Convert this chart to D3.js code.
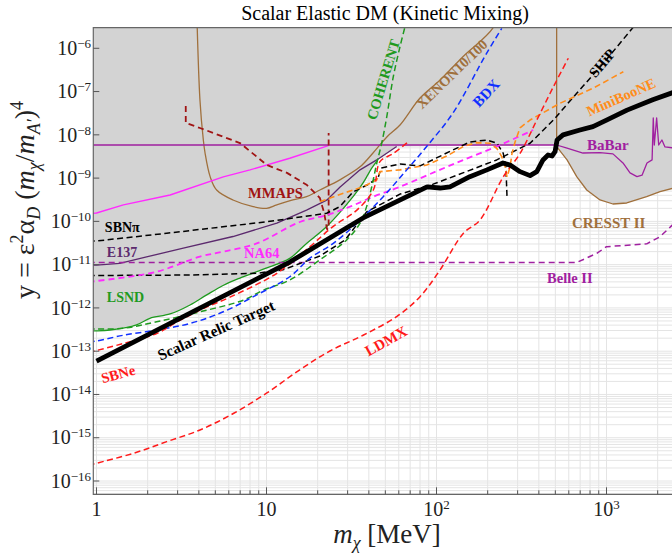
<!DOCTYPE html>
<html>
<head>
<meta charset="utf-8">
<script src="https://cdn.jsdelivr.net/npm/d3@7"></script>
<style>
  body { margin: 0; background: #fff; }
  text { font-family: "Liberation Serif", "DejaVu Serif", serif; }
</style>
</head>
<body>
<svg id="chart" width="672" height="556"></svg>
<script>
// ---- data: [m_chi in MeV, y] ----
const relicTarget = [[1,5.89e-14],[13.7,1.15e-11],[37,1.2e-10],[88,6.24e-10],[105,5.9e-10],[120,6.3e-10],[157,1.08e-9],[198,1.55e-9],[246,2.24e-9],[271,2.0e-9],[310,1.41e-9],[355,1.14e-9],[389,1.41e-9],[423,2.63e-9],[453,3.42e-9],[478,3.24e-9],[498,4.07e-9],[512,7.59e-9],[555,1.0e-8],[698,1.29e-8],[832,1.55e-8],[1000,2.19e-8],[1320,3.72e-8],[1870,6.46e-8],[2460,9.5e-8]];
const babar = [[0.9,5.82e-9],[509,5.82e-9],[586,4.9e-9],[727,3.8e-9],[916,3.89e-9],[1091,3.63e-9],[1250,2.24e-9],[1375,1.32e-9],[1511,1.08e-9],[1618,1.17e-9],[1730,2.24e-9],[1854,2.63e-9],[1884,2.45e-8],[1910,5.82e-9],[1972,2.45e-8],[2028,5.82e-9],[2118,7.59e-9],[2208,5.25e-9],[2460,5.0e-9]];
const cresst = [[509,1e-5],[509,5.32e-9],[586,2.63e-9],[668,1.08e-9],[765,5.31e-10],[916,3.12e-10],[1091,2.52e-10],[1315,2.66e-10],[1722,3.72e-10],[2064,4.85e-10],[2460,5.82e-10]];
const xenon = [[3.88,1e-5],[4.06,6.38e-8],[4.25,7.59e-9],[4.35,3.8e-9],[4.66,1.08e-9],[5.09,5.31e-10],[6.35,3.12e-10],[8.34,2.19e-10],[10,2.0e-10],[11.5,2.4e-10],[14.3,3.12e-10],[17.2,3.72e-10],[20.6,5.31e-10],[27,9.12e-10],[35.5,1.82e-9],[42.3,3.8e-9],[51.2,9.06e-9],[61,1.69e-8],[80,7.1e-8],[105,1.85e-7],[143,6.4e-7],[215,2.95e-6],[240,1e-5]];
const e137 = [[0.9,9.7e-12],[1,9.77e-12],[1.37,1.07e-11],[1.97,1.51e-11],[3.24,2.4e-11],[6.35,4.47e-11],[11.5,9.12e-11],[17.2,1.82e-10],[22.6,3.09e-10],[27,6.17e-10],[35.5,1.55e-9],[44.5,2.63e-9],[58.3,5.37e-9]];
const lsnd = [[0.9,2.95e-13],[1,2.95e-13],[1.2,3.09e-13],[1.72,4.07e-13],[2.06,5.75e-13],[2.71,7.24e-13],[3.55,1.17e-12],[4.45,2.0e-12],[5.55,3.3e-12],[6.98,4.9e-12],[9.5,7.8e-12],[13.7,1.4e-11],[17.2,3.09e-11],[22.6,7.59e-11],[32.3,3.72e-10],[37,7.76e-10],[41.6,1.7e-9],[44.7,2.51e-9]];
const sbnPiUpper = [[0.9,3.5e-11],[1,3.52e-11],[2.59,5.31e-11],[10,9.77e-11],[22.6,1.54e-10],[27,2.19e-10],[32.3,4.79e-10],[39,6.92e-10],[45.3,1.0e-9],[47.2,1.71e-9],[61,2.12e-9],[80,1.91e-9],[125,4.47e-9],[157,6.84e-9],[198,7.59e-9],[227,6.38e-9],[247,3.74e-9],[256,1.84e-9],[260,3.47e-10]];
const sbnPiShip = [[0.9,5.62e-12],[1,5.62e-12],[3.55,5.75e-12],[8.75,6.31e-12],[12.5,7.59e-12],[20.6,1.58e-11],[29,3.72e-11],[38.8,1.66e-10],[61,4.27e-10],[95.5,7.24e-10],[143,1.32e-9],[226,2.63e-9],[355,6.38e-9],[487,2.2e-8],[668,9.12e-8],[958,4.5e-7],[1440,3.1e-6]];
const na64Proj = [[0.9,4.0e-12],[1,4.19e-12],[2.26,6.87e-12],[4.06,1.53e-11],[5.57,2.0e-11],[8.76,3.09e-11],[15.7,9.68e-11],[22.6,1.4e-10],[31,2.19e-10],[42.5,3.72e-10],[61,6.31e-10],[115,1.82e-9],[144,2.63e-9],[226,5.37e-9],[370,1.29e-8]];
const na64 = [[0.9,1.5e-10],[1,1.56e-10],[1.44,2.4e-10],[2.71,4.07e-10],[5.57,1.07e-9],[8.0,1.55e-9],[13.7,2.88e-9],[23.1,5.62e-9]];
const mmaps = [[3.35,4.65e-8],[3.35,1.88e-8],[4.06,1.44e-8],[6.98,6.46e-9],[10.07,2.0e-9],[13.2,1.32e-9],[17.3,6.92e-10],[20.6,3.47e-10],[21.8,1.62e-10],[22.7,6.61e-11],[23.2,6.61e-11],[23.2,1.1e-8]];
const sbne = [[0.9,9.5e-14],[1,1.04e-13],[1.44,1.51e-13],[2.26,2.57e-13],[2.96,4.68e-13],[4.06,8.91e-13],[6.1,1.78e-12],[11.5,6.31e-12],[18,2.6e-11],[24.6,7.59e-11],[34,1.82e-10],[42.5,5.31e-10],[46.5,2.4e-9],[55.7,3.72e-9],[68,6.84e-9]];
const ldmx = [[0.9,2.3e-16],[1,2.57e-16],[1.65,4.37e-16],[2.59,8.13e-16],[4.06,1.51e-15],[6.38,3.63e-15],[10,1.07e-14],[15.7,3.72e-14],[23.6,1.01e-13],[37,2.34e-13],[58.3,6.31e-13],[80,1.82e-12],[105,7.59e-12],[144,5.31e-11],[180,1.07e-10],[247,1.07e-9],[310,3.72e-9],[389,2.19e-8],[487,1.29e-7],[596,5.89e-7]];
const bdx = [[0.9,1.65e-13],[1,1.72e-13],[1.44,2.34e-13],[2.26,3.09e-13],[3.55,4.37e-13],[5.57,8.13e-13],[8.75,2.0e-12],[13.7,5.25e-12],[18,1.41e-11],[24.7,3.09e-11],[35.5,1.07e-10],[48.6,3.72e-10],[66.8,1.55e-9],[87.5,5.37e-9],[125,3.2e-8],[197,7.66e-7],[242,2.88e-6]];
const coherent = [[0.9,3.25e-13],[1,3.26e-13],[1.44,3.39e-13],[2.26,4.79e-13],[4.06,8.13e-13],[7.3,1.51e-12],[9.57,2.57e-12],[13.7,4.42e-12],[20.6,1.29e-11],[29.6,3.72e-11],[35.5,9.12e-11],[38.8,2.19e-10],[41.6,6.31e-10],[44.5,2.19e-9],[47.6,6.38e-9],[51,2.63e-8],[55.7,2.21e-7],[61,1.09e-6],[65.3,3.16e-6]];
const miniboone = [[20.6,2.85e-10],[28.3,4.47e-10],[37,6.31e-10],[44.5,9.12e-10],[46.5,1.41e-9],[61,1.55e-9],[87.5,2.0e-9],[115,3.24e-9],[144,5.37e-9],[172,6.61e-9],[206,6.38e-9],[226,4.9e-9],[242,3.13e-9],[253,1.84e-9],[260,1.06e-9],[271,1.84e-9],[278,3.72e-9],[290,6.92e-9],[310,1.45e-8],[355,2.2e-8],[533,5.37e-8],[836,1.2e-7],[1256,2.88e-7]];
const belle2 = [[0.9,1.12e-11],[668,1.12e-11],[876,1.82e-11],[1000,2.6e-11],[1723,3.02e-11],[2065,4.43e-11],[2460,8.5e-11]];

const xTickValues = [1, 10, 100, 1000];
const xTickLabels = [["1", ""], ["10", ""], ["10", "2"], ["10", "3"]];
const yExponents = [-16, -15, -14, -13, -12, -11, -10, -9, -8, -7, -6];

// label text, anchor [m, y], angle, colour, anchor mode, size
const labels = [
  ["SBN\u03c0", [1.12, 5.69e-11], 0, "#000", "start", 14],
  ["E137", [1.15, 1.5e-11], 0, "#5c2a6e", "start", 14],
  ["LSND", [1.15, 1.37e-12], 0, "#1f9a1f", "start", 14],
  ["NA64", [7.37, 1.43e-11], 0, "#ff2bff", "start", 14.5],
  ["MMAPS", [7.79, 3.47e-10], 0, "#a01414", "start", 14.5],
  ["BaBar", [768, 4.47e-9], 0, "#a020a0", "start", 15],
  ["CRESST II", [626, 7.03e-11], 0, "#a0703c", "start", 15],
  ["Belle II", [447, 3.77e-12], 0, "#a020a0", "start", 14.5],
  ["COHERENT", [48.6, 1.9e-7], -73, "#1f9a1f", "middle", 14.5],
  ["XENON10/100", [123, 2.55e-7], -44, "#a0703c", "middle", 14.5],
  ["BDX", [196, 9.27e-8], -47, "#1030ff", "middle", 15],
  ["SHiP", [942, 4.57e-7], -50, "#000", "middle", 14.5],
  ["MiniBooNE", [1217, 7.5e-8], -24, "#ff8c1a", "middle", 14.5],
  ["Scalar Relic Target", [5.05, 3.09e-13], -24, "#000", "middle", 15.5],
  ["SBNe", [1.34, 2.97e-14], -15, "#ff1a1a", "middle", 14.5],
  ["LDMX", [50.5, 1.72e-13], -29, "#ff1a1a", "middle", 15]
];

// ---- layout ----
const pL = 93.3, pR = 673, pT = 27.7, pB = 494.3;
const x = d3.scaleLog().domain([0.9576, 2461]).range([pL, pR]);
const y = d3.scaleLog().domain([4.93e-17, 2.99e-6]).range([pB, pT]);

const svg = d3.select("#chart");
svg.append("defs").append("clipPath").attr("id", "plot")
  .append("rect").attr("x", pL).attr("y", pT)
  .attr("width", pR - pL).attr("height", pB - pT);

// grid
const xGrid = [], yGrid = [];
for (let d = 0; d <= 3; d++) for (let i = 1; i <= 9; i++) {
  const v = i * Math.pow(10, d);
  if (v >= x.domain()[0] && v <= x.domain()[1]) xGrid.push(v);
}
for (let d = -17; d <= -6; d++) for (let i = 1; i <= 9; i++) {
  const v = i * Math.pow(10, d);
  if (v >= y.domain()[0] && v <= y.domain()[1]) yGrid.push(v);
}
const grid = svg.append("g");
grid.selectAll(".gx").data(xGrid).enter().append("line")
  .attr("x1", d => x(d)).attr("x2", d => x(d)).attr("y1", pT).attr("y2", pB)
  .attr("stroke", "#e4e4e4").attr("stroke-width", 1);
grid.selectAll(".gy").data(yGrid).enter().append("line")
  .attr("y1", d => y(d)).attr("y2", d => y(d)).attr("x1", pL).attr("x2", pR)
  .attr("stroke", "#e4e4e4").attr("stroke-width", 1);

const plot = svg.append("g").attr("clip-path", "url(#plot)");

// grey excluded region: LSND / E137 / BaBar / CRESST II
const greyPoly = [[0.9, 1e-4]]
  .concat(lsnd)
  .concat(e137.filter(p => p[0] > 44.7))
  .concat([[509, babar[0][1]]])
  .concat(cresst.slice(1))
  .concat([[3000, cresst[cresst.length - 1][1]], [3000, 1e-4]]);
plot.append("path")
  .attr("d", d3.line().x(d => x(d[0])).y(d => y(d[1]))(greyPoly) + "Z")
  .attr("fill", "#d3d3d3");

const lin = d3.line().x(d => x(d[0])).y(d => y(d[1]));
const smooth = d3.line().x(d => x(d[0])).y(d => y(d[1])).curve(d3.curveCatmullRom.alpha(0.5));

function curve(data, color, width, dash, gen) {
  plot.append("path").attr("d", (gen || lin)(data))
    .attr("fill", "none").attr("stroke", color).attr("stroke-width", width)
    .attr("stroke-dasharray", dash || null).attr("stroke-linejoin", "round");
}

curve(xenon, "#a0703c", 1.3, null, smooth);
curve(cresst, "#a0703c", 1.3);
curve(na64, "#ff2bff", 1.4);
curve(babar, "#a020a0", 1.3);
curve(e137, "#5c2a6e", 1.3);
curve(lsnd, "#1f9a1f", 1.3, null, smooth);
curve(mmaps, "#a01414", 1.8, "6,4");
curve(belle2, "#a020a0", 1.5, "6,4");
curve(sbnPiUpper, "#000", 1.5, "6,3.5");
curve(sbnPiShip, "#000", 1.5, "6,3.5");
curve(na64Proj, "#ff2bff", 1.8, "6,4", smooth);
curve(miniboone, "#ff8c1a", 1.6, "6,3.5");
curve(coherent, "#1f9a1f", 1.5, "6,3.5", smooth);
curve(bdx, "#1030ff", 1.5, "6,3.5", smooth);
curve(sbne, "#ff1a1a", 1.5, "6,3.5", smooth);
curve(ldmx, "#ff1a1a", 1.5, "6,3.5", smooth);
curve(relicTarget, "#000", 4.8);

// labels
labels.forEach(([txt, pos, ang, col, anchor, size]) => {
  svg.append("text")
    .attr("transform", `translate(${x(pos[0])},${y(pos[1])}) rotate(${ang})`)
    .attr("text-anchor", anchor)
    .attr("dominant-baseline", anchor === "middle" ? "central" : "auto")
    .attr("font-size", size).attr("font-weight", "bold").attr("fill", col)
    .text(txt);
});

// frame
svg.append("path")
  .attr("d", `M${pR},${pT}H${pL}V${pB}H${pR}`)
  .attr("fill", "none").attr("stroke", "#666").attr("stroke-width", 1.2);

// ticks
svg.selectAll(".tx").data(xGrid).enter().append("line")
  .attr("x1", d => x(d)).attr("x2", d => x(d)).attr("y1", pB)
  .attr("y2", d => pB - (xTickValues.includes(d) ? 7 : 4))
  .attr("stroke", "#555");
svg.selectAll(".ty").data(yExponents).enter().append("line")
  .attr("y1", d => y(Math.pow(10, d))).attr("y2", d => y(Math.pow(10, d)))
  .attr("x1", pL).attr("x2", pL + 6).attr("stroke", "#555");

// tick labels
const xl = svg.selectAll(".xl").data(xTickValues).enter().append("text")
  .attr("x", d => x(d)).attr("y", 516).attr("text-anchor", "middle")
  .attr("font-size", 20).attr("fill", "#222");
xl.append("tspan").text((d, i) => xTickLabels[i][0]);
xl.append("tspan").attr("dy", -7).attr("font-size", 13).text((d, i) => xTickLabels[i][1]);

const yl = svg.selectAll(".yl").data(yExponents).enter().append("text")
  .attr("x", 91).attr("y", d => y(Math.pow(10, d)) + 6.7).attr("text-anchor", "end")
  .attr("font-size", 20).attr("fill", "#222");
yl.append("tspan").text("10");
yl.append("tspan").attr("dy", -7).attr("font-size", 13).text(d => "\u2212" + (-d));

// title
svg.append("text").attr("x", 385).attr("y", 20).attr("text-anchor", "middle")
  .attr("font-size", 20).text("Scalar Elastic DM (Kinetic Mixing)");

// axis titles
const xt = svg.append("text").attr("x", 387).attr("y", 543).attr("text-anchor", "middle")
  .attr("font-size", 27).attr("fill", "#222");
xt.append("tspan").attr("font-style", "italic").text("m");
xt.append("tspan").attr("font-style", "italic").attr("font-size", 18).attr("dy", 6).text("\u03c7");
xt.append("tspan").attr("dy", -6).text(" [MeV]");

const yt = svg.append("text").attr("transform", "translate(34,200) rotate(-90)")
  .attr("text-anchor", "middle").attr("font-size", 28).attr("fill", "#222");
yt.append("tspan").text("y = \u03b5");
yt.append("tspan").attr("font-size", 18).attr("dy", -11).text("2");
yt.append("tspan").attr("dy", 11).text("\u03b1");
yt.append("tspan").attr("font-size", 18).attr("dy", 6).attr("font-style", "italic").text("D");
yt.append("tspan").attr("dy", -6).text(" (");
yt.append("tspan").attr("font-style", "italic").text("m");
yt.append("tspan").attr("font-size", 18).attr("dy", 6).attr("font-style", "italic").text("\u03c7");
yt.append("tspan").attr("dy", -6).text("/");
yt.append("tspan").attr("font-style", "italic").text("m");
yt.append("tspan").attr("font-size", 18).attr("dy", 6).attr("font-style", "italic").text("A\u2032");
yt.append("tspan").attr("dy", -6).text(")");
yt.append("tspan").attr("font-size", 18).attr("dy", -11).text("4");
</script>
</body>
</html>
